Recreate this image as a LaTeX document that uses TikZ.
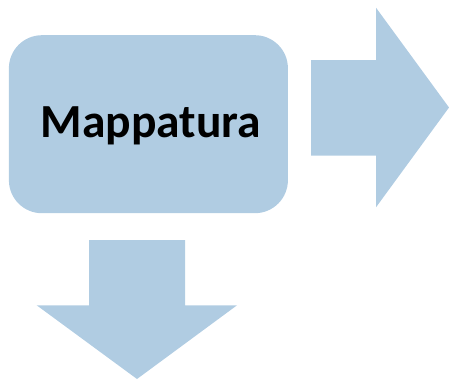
\documentclass[tikz,border=0pt]{standalone}
\usepackage{fontspec}
\setmainfont{Carlito}
\definecolor{boxblue}{RGB}{176,204,226}
\begin{document}
\begin{tikzpicture}[x=1pt,y=-1pt,
  shapefill/.style={fill=boxblue,draw=none}]
\useasboundingbox (0,0) rectangle (449,380);
\node[shapefill, rounded corners=33pt, minimum width=279pt, minimum height=178pt,
  inner sep=0pt, anchor=north west] (map) at (8.7,35) {};
\node[inner sep=0pt, font=\fontsize{47.5}{52}\selectfont\bfseries]
  (maplabel) at ([xshift=2.5pt,yshift=-2pt]map.center) {Mappatura};
\fill[shapefill] (311,60) -- (376,60) -- (376,7.7) -- (449,107.5) -- (376,207.3)
  -- (376,155.7) -- (311,155.7) -- cycle;
\fill[shapefill] (89,240) -- (185,240) -- (185,305.3) -- (237,305.3) -- (137,379)
  -- (36.7,305.3) -- (89,305.3) -- cycle;
\end{tikzpicture}
\end{document}
